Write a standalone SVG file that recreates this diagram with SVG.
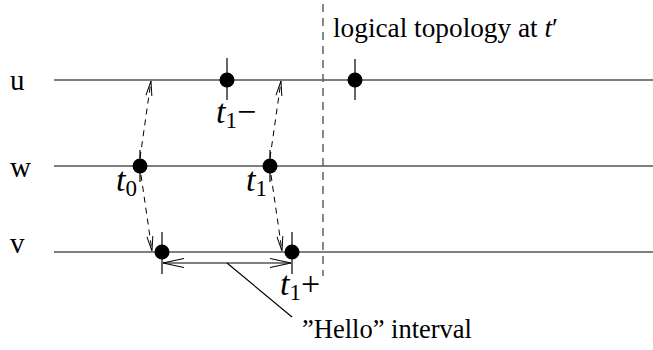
<svg xmlns="http://www.w3.org/2000/svg" width="653" height="350" viewBox="0 0 653 350">
<defs>
<marker id="open" viewBox="0 0 16 8" refX="15" refY="4" markerWidth="16" markerHeight="8" markerUnits="userSpaceOnUse" orient="auto-start-reverse">
<path d="M0,1 L15,4 L0,7" fill="none" stroke="#000" stroke-width="1"/>
</marker>
<marker id="big" viewBox="0 0 22 12" refX="21" refY="6" markerWidth="22" markerHeight="12" markerUnits="userSpaceOnUse" orient="auto-start-reverse">
<path d="M0,1.5 L21,6 L0,10.5" fill="none" stroke="#000" stroke-width="1.1"/>
</marker>
</defs>
<style>
.line{stroke:#000;stroke-width:1.2;fill:none}
.tick{stroke:#000;stroke-width:1.2}
.dot{fill:#000}
.dash{stroke:#000;stroke-width:1;stroke-dasharray:6,5;fill:none}
.vdash{stroke:#555;stroke-width:1.4;stroke-dasharray:8,6;fill:none}
text{font-family:'Liberation Serif','Times New Roman',serif;fill:#000}
</style>
<g id="timelines">
<line class="line" x1="54" y1="80" x2="653" y2="80"/>
<line class="line" x1="54" y1="166" x2="653" y2="166"/>
<line class="line" x1="54" y1="252" x2="653" y2="252"/>
<text x="10" y="90" font-size="29">u</text>
<text x="10" y="177" font-size="29">w</text>
<text x="10" y="253" font-size="29">v</text>
</g>
<g id="cut">
<line class="vdash" x1="323" y1="4" x2="323" y2="276"/>
<text x="333" y="37" font-size="27.3">logical topology at <tspan font-style="italic">t</tspan>′</text>
</g>
<g id="u-t1minus">
<line class="tick" x1="227" y1="58" x2="227" y2="100"/>
<circle class="dot" cx="227" cy="80" r="7.5"/>
<text x="216" y="123" font-size="34"><tspan font-style="italic">t</tspan><tspan font-size="23" dy="5">1</tspan><tspan dy="-5">−</tspan></text>
</g>
<g id="u-tprime">
<line class="tick" x1="355" y1="59" x2="355" y2="100"/>
<circle class="dot" cx="355" cy="80" r="7.5"/>
</g>
<g id="w-t0">
<line class="tick" x1="140" y1="150" x2="140" y2="182"/>
<circle class="dot" cx="140" cy="166" r="7.5"/>
<text x="116" y="191" font-size="34"><tspan font-style="italic">t</tspan><tspan font-size="23" dy="5">0</tspan></text>
</g>
<g id="w-t1">
<line class="tick" x1="270" y1="150" x2="270" y2="182"/>
<circle class="dot" cx="270" cy="166" r="7.5"/>
<text x="246" y="191" font-size="34"><tspan font-style="italic">t</tspan><tspan font-size="23" dy="5">1</tspan></text>
</g>
<g id="v-a">
<line class="tick" x1="162" y1="232" x2="162" y2="274"/>
<circle class="dot" cx="162" cy="252" r="7.5"/>
</g>
<g id="v-t1plus">
<line class="tick" x1="292" y1="232" x2="292" y2="274"/>
<circle class="dot" cx="292" cy="252" r="7.5"/>
<text x="280" y="295" font-size="34"><tspan font-style="italic">t</tspan><tspan font-size="23" dy="5">1</tspan><tspan dy="-5">+</tspan></text>
</g>
<g id="connectors">
<line class="dash" x1="140" y1="158" x2="151" y2="81" marker-end="url(#open)"/>
<line class="dash" x1="270" y1="158" x2="281" y2="81" marker-end="url(#open)"/>
<line class="dash" x1="141" y1="175" x2="152" y2="251" marker-end="url(#open)"/>
<line class="dash" x1="271" y1="175" x2="282" y2="251" marker-end="url(#open)"/>
<line class="line" x1="163" y1="263" x2="291" y2="263" marker-start="url(#big)" marker-end="url(#big)"/>
<line class="line" stroke-width="1" x1="227" y1="263" x2="292" y2="317"/>
</g>
<g id="hello">
<text x="302" y="338" font-size="26.5">”Hello” interval</text>
</g>
</svg>
